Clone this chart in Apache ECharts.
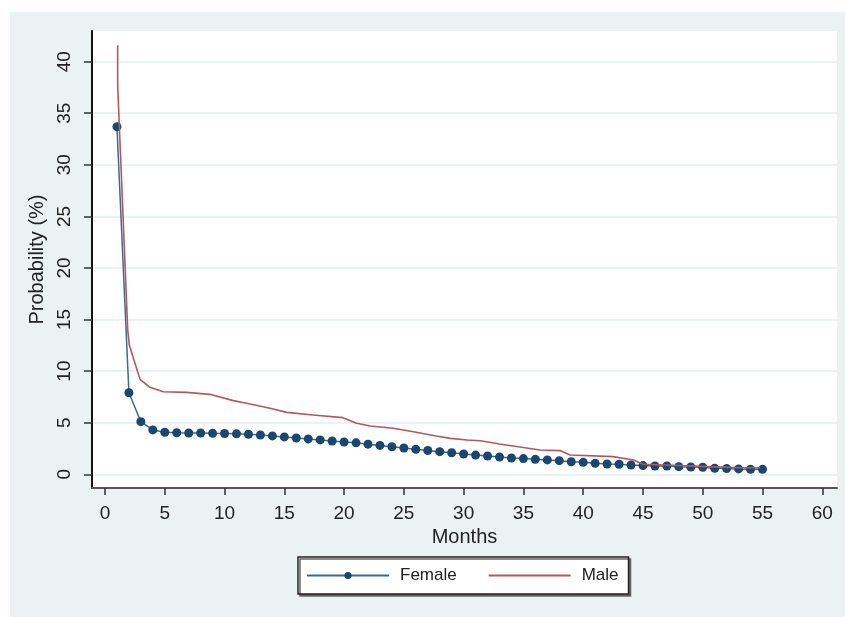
<!DOCTYPE html>
<html>
<head>
<meta charset="utf-8">
<script src="https://cdn.jsdelivr.net/npm/echarts@6/dist/echarts.min.js"></script>
<style>
  html,body{margin:0;padding:0;background:#fff;}
  #bg{position:absolute;left:10px;top:12px;width:835px;height:605px;background:#eaf2f3;}
  #chart{position:absolute;left:0;top:0;width:845px;height:617px;}
</style>
</head>
<body>
<div id="bg"></div>
<div id="chart"></div>
<script>
// ---- data ----
var months = [1,2,3,4,5,6,7,8,9,10,11,12,13,14,15,16,17,18,19,20,21,22,23,24,25,26,27,28,29,30,31,32,33,34,35,36,37,38,39,40,41,42,43,44,45,46,47,48,49,50,51,52,53,54,55];
var femaleValues = [33.7,7.9,5.1,4.3,4.07,4.03,4.0,4.0,3.97,3.95,3.92,3.88,3.81,3.72,3.62,3.52,3.43,3.33,3.23,3.13,3.05,2.92,2.8,2.67,2.55,2.42,2.3,2.19,2.09,1.97,1.86,1.77,1.68,1.58,1.52,1.45,1.39,1.32,1.22,1.16,1.06,1.0,0.97,0.9,0.84,0.8,0.8,0.74,0.71,0.68,0.58,0.55,0.52,0.48,0.48];
var maleMonths = [1.06,1.06,1.2,1.2,1.34,1.34,1.48,1.48,1.62,1.62,1.76,1.76,1.9,1.9,2.04,2.04,2.93,3.76,4.88,6.83,8.78,10.73,11.85,13.8,15.2,17.4,19.9,21.05,22.2,24.1,25.8,27.7,28.9,30.3,31.4,33.0,36.4,38.1,38.9,42.5,44.2,45.0,47.5,50.3,53.1,54.8];
var maleValues = [41.6,37.7,37.7,33.7,33.7,29.8,29.8,25.8,25.8,21.9,21.9,17.9,17.9,14.0,14.0,12.5,9.2,8.43,8.0,7.94,7.75,7.14,6.88,6.4,6.0,5.75,5.49,4.94,4.68,4.46,4.13,3.71,3.48,3.32,3.25,2.94,2.35,2.29,1.87,1.71,1.39,0.97,0.87,0.74,0.64,0.64];
var xTicks = [0,5,10,15,20,25,30,35,40,45,50,55,60];
var yTicks = [0,5,10,15,20,25,30,35,40];
var seriesNames = ['Female','Male'];
var xTitle = 'Months';
var yTitle = 'Probability (%)';

var FONT = '"Liberation Sans", Arial, sans-serif';
var chart = echarts.init(document.getElementById('chart'), null, {renderer:'canvas'});

var femaleData = months.map(function(m,i){return [m, femaleValues[i]];});
var maleData = maleMonths.map(function(m,i){return [m, maleValues[i]];});

chart.setOption({
  animation:false,
  textStyle:{fontFamily:FONT},
  grid:{left:92,right:8,top:31,bottom:129,show:true,backgroundColor:'#ffffff',borderWidth:0,containLabel:false},
  legend:{
    data:[{name:seriesNames[0]},{name:seriesNames[1],itemStyle:{opacity:0}}],
    left:298, top:557,
    orient:'horizontal',
    itemWidth:82, itemHeight:9, itemGap:31,
    padding:[10,10,10,8],
    backgroundColor:'#ffffff',
    borderColor:'#222', borderWidth:1.5, borderRadius:0,
    shadowColor:'#666', shadowOffsetX:2, shadowOffsetY:2, shadowBlur:0,
    textStyle:{fontSize:17,color:'#222',fontFamily:FONT,padding:[0,0,0,6]}
  },
  xAxis:{
    type:'value', min:-1.087, max:61.23,
    name:xTitle, nameLocation:'middle', nameGap:33,
    nameTextStyle:{fontSize:20,color:'#222',fontFamily:FONT},
    axisLine:{show:true,onZero:false,lineStyle:{color:'#555',width:2}},
    axisTick:{show:true,length:7,lineStyle:{color:'#333',width:1.5},customValues:xTicks},
    axisLabel:{fontSize:19,color:'#222',margin:16,customValues:xTicks,fontFamily:FONT},
    splitLine:{show:false}
  },
  yAxis:{
    type:'value', min:-1.33, max:42.97,
    name:yTitle, nameLocation:'middle', nameGap:42, nameRotate:90,
    nameTextStyle:{fontSize:20,color:'#222',fontFamily:FONT},
    axisLine:{show:true,onZero:false,lineStyle:{color:'#111',width:2}},
    axisTick:{show:true,length:8,lineStyle:{color:'#333',width:1.5},customValues:yTicks},
    axisLabel:{fontSize:19,color:'#222',margin:18,rotate:90,customValues:yTicks,fontFamily:FONT},
    splitLine:{show:true,lineStyle:{color:'#eaf2f3',width:2}}
  },
  series:[
    {
      name:'Female', type:'line', data:femaleData,
      symbol:'circle', symbolSize:9, showSymbol:true,
      itemStyle:{color:'#1a476f'},
      lineStyle:{color:'#3d6a90',width:1.5},
      z:3
    },
    {
      name:'Male', type:'line', data:maleData,
      symbol:'none', showSymbol:false,
      itemStyle:{color:'#ad5a60'},
      lineStyle:{color:'#ad5a60',width:1.6},
      z:4
    }
  ]
});
</script>
</body>
</html>
